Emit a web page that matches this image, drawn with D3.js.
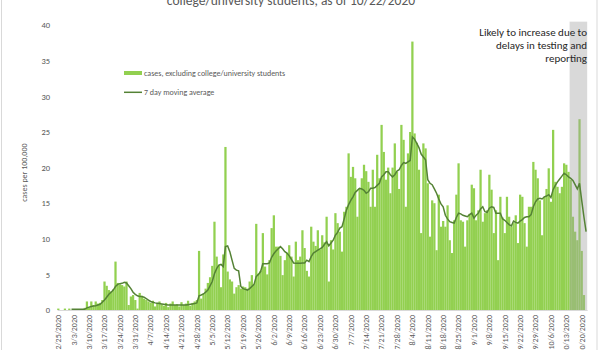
<!DOCTYPE html>
<html>
<head>
<meta charset="utf-8">
<script src="https://cdn.jsdelivr.net/npm/d3@7"></script>
<style>
  html, body { margin: 0; padding: 0; background: #fff; overflow: hidden; }
  text { font-family: Carlito, Calibri, Lato, sans-serif; }
</style>
</head>
<body>
<div id="chart"></div>
<script>
// daily categories run from 2/25/2020 through 10/22/2020
const startDay = new Date(2020, 1, 25);
const endDay = new Date(2020, 9, 22);

// cases per 100,000 excluding college/university students, one per day
const cases = [
  0.2, 0, 0, 0.2, 0, 0.2, 0, 0, 0, 0,
  0, 0, 0.3, 1.2, 0.4, 1.2, 0.7, 1.2, 0.9, 1.0,
  1.4, 4.0, 3.4, 2.8, 2.6, 2.9, 6.8, 3.8, 3.6, 3.5,
  3.3, 4.0, 0.7, 1.9, 2.1, 1.4, 0.2, 2.4, 2.0, 1.6,
  1.4, 1.2, 1.0, 1.3, 0.5, 1.0, 1.2, 0.8, 0.6, 1.0,
  0.4, 0.9, 1.2, 0.7, 0.8, 0.5, 1.1, 0.7, 0.9, 1.3,
  0.6, 1.0, 1.2, 1.4, 8.3, 1.6, 2.3, 3.0, 3.8, 4.6,
  6.2, 12.4, 7.5, 6.3, 3.2, 7.8, 22.9, 5.4, 4.3, 4.0,
  2.3, 3.2, 3.5, 3.0, 3.3, 3.2, 3.0, 4.0, 4.9, 3.6,
  12.1, 5.1, 5.5, 10.8, 6.1, 5.0, 7.0, 11.5, 13.3, 8.9,
  8.9, 7.6, 4.9, 7.0, 8.0, 9.1, 7.5, 4.7, 9.6, 7.0,
  7.5, 11.2, 8.7, 5.5, 4.7, 11.7, 9.6, 9.0, 11.2, 8.5,
  10.5, 9.5, 13.1, 4.0, 9.8, 8.5, 13.6, 12.2, 11.0, 8.2,
  13.8, 14.5, 22.0, 18.7, 20.1, 18.5, 13.1, 17.1, 18.5, 20.4,
  19.5, 18.0, 14.5, 19.7, 14.5, 21.8, 18.5, 26.0, 22.2, 18.3,
  20.0, 16.4, 20.0, 23.4, 19.4, 17.0, 26.0, 23.9, 14.5, 22.0,
  25.0, 37.7, 24.8, 23.5, 19.7, 10.8, 23.4, 22.7, 17.8, 10.3,
  15.4, 15.0, 8.4, 16.2, 11.7, 12.5, 11.7, 14.7, 9.8, 8.0,
  12.6, 16.2, 20.6, 12.6, 12.4, 8.9, 12.6, 13.5, 17.6, 17.1,
  12.6, 14.0, 19.7, 12.4, 13.6, 14.0, 19.0, 16.9, 10.8, 14.0,
  7.0, 15.9, 13.0, 10.8, 15.9, 13.1, 11.7, 12.2, 13.3, 9.4,
  16.2, 15.9, 12.2, 8.9, 14.5, 14.5, 20.8, 19.7, 18.5, 15.4,
  10.5, 15.9, 17.0, 19.9, 15.2, 25.3, 18.0, 17.3, 16.4, 17.3,
  20.6, 20.4, 19.4, 18.3, 13.1, 11.0, 9.8, 26.8, 8.3, 2.1,
  0
];

// 7 day moving average as drawn (starts on the 7th day)
const movingAvg = [
  null, null, null, null, null, null, 0.1, 0.1, 0.1, 0.1,
  0.1, 0.1, 0.1, 0.3, 0.4, 0.5, 0.55, 0.6, 0.7, 0.8,
  1.1, 1.4, 1.8, 2.2, 2.5, 2.8, 3.3, 3.6, 3.7, 3.75,
  3.9, 3.8, 3.4, 3.0, 2.5, 2.2, 2.0, 1.9, 1.9, 1.8,
  1.6, 1.4, 1.2, 1.1, 1.0, 0.95, 0.9, 0.85, 0.8, 0.75,
  0.7, 0.7, 0.7, 0.7, 0.7, 0.7, 0.7, 0.7, 0.7, 0.75,
  0.8, 0.85, 0.9, 1.0, 2.0, 2.1, 2.25, 2.5, 2.8, 3.4,
  4.0, 5.1, 5.8, 6.3, 6.4, 6.1, 8.9, 9.0, 8.2, 7.0,
  5.85, 5.6, 5.5, 3.3, 3.0, 2.9, 2.8, 3.0, 3.3, 3.6,
  4.7, 5.0, 5.4, 6.5, 6.5, 6.5, 6.6, 7.4, 7.9, 8.3,
  8.6, 8.9, 8.6, 8.2, 8.0, 7.6, 7.1, 6.6, 6.55, 6.55,
  6.55, 6.6, 6.6, 7.0, 6.8, 7.5, 8.0, 8.2, 8.4, 8.6,
  8.8, 9.2, 9.6, 9.0, 9.4, 9.8, 10.5, 10.9, 11.5, 11.7,
  12.8, 14.0, 14.8, 15.4, 15.9, 16.5, 16.8, 17.1, 17.0, 16.8,
  16.4, 16.6, 17.1, 17.1, 17.2, 17.5, 17.8, 18.7, 19.0, 19.4,
  19.4, 19.0, 18.7, 19.0, 19.5, 19.7, 20.3, 20.7, 20.6, 20.8,
  21.0, 24.3, 24.0, 23.4, 22.8, 21.9, 21.5, 21.1, 18.3, 17.8,
  17.6, 17.0, 16.4, 15.6, 14.9, 14.5, 13.3, 12.8, 12.4, 12.3,
  12.2, 13.0, 13.6, 13.5, 13.3, 13.2, 13.1, 13.4, 13.6, 12.9,
  13.3, 13.6, 14.2, 14.5, 13.8, 13.7, 14.3, 14.5, 14.4, 13.6,
  13.6, 13.6, 12.8, 12.6, 12.3, 12.0, 11.8, 12.5, 12.3, 12.2,
  12.5, 12.7, 13.0, 13.1, 13.1, 13.4, 14.5, 15.2, 15.6, 15.7,
  15.6, 15.9, 16.0, 16.2, 15.8, 16.9, 17.5, 18.0, 18.4, 18.8,
  19.2, 19.0, 18.7, 18.5, 18.2, 17.6, 17.0, 17.8, 15.4, 13.1,
  11.0
];

const xTickLabels = [
  "2/25/2020", "3/3/2020", "3/10/2020", "3/17/2020", "3/24/2020", "3/31/2020",
  "4/7/2020", "4/14/2020", "4/21/2020", "4/28/2020", "5/5/2020", "5/12/2020",
  "5/19/2020", "5/26/2020", "6/2/2020", "6/9/2020", "6/16/2020", "6/23/2020",
  "6/30/2020", "7/7/2020", "7/14/2020", "7/21/2020", "7/28/2020", "8/4/2020",
  "8/11/2020", "8/18/2020", "8/25/2020", "9/1/2020", "9/8/2020", "9/15/2020",
  "9/22/2020", "9/29/2020", "10/6/2020", "10/13/2020", "10/20/2020"
];
const yTicks = [0, 5, 10, 15, 20, 25, 30, 35, 40];

// shaded "incomplete data" window
const shadeFrom = "10/15/2020";
const shadeTop = 40.5;
const noteLines = ["Likely to increase due to", "delays in testing and", "reporting"];

const fmt = d3.timeFormat("%-m/%-d/%Y");
const days = d3.timeDay.range(startDay, d3.timeDay.offset(endDay, 1)).map(fmt);
const data = days.map((d, i) => ({ day: d, cases: cases[i], avg: movingAvg[i] }));

const width = 600, height = 350;
const svg = d3.select("#chart").append("svg")
    .attr("width", width)
    .attr("height", height);

// outer chart frame
svg.append("rect")
    .attr("x", 1.5).attr("y", -10)
    .attr("width", 595.5).attr("height", height + 20)
    .attr("fill", "none")
    .attr("stroke", "#d9d9d9");

const x = d3.scaleBand()
    .domain(days)
    .range([57.2, 587.2])
    .padding(0);

const y = d3.scaleLinear()
    .domain([0, 40])
    .range([310, 25.2]);

// title (first line falls outside the frame)
svg.append("text")
    .attr("x", 291).attr("y", 5)
    .attr("text-anchor", "middle")
    .style("font-size", "13.5px")
    .style("fill", "#595959")
    .text("college/university students, as of 10/22/2020");

// bars
svg.append("g").selectAll("rect")
  .data(data)
  .enter().append("rect")
    .attr("x", d => x(d.day))
    .attr("width", x.bandwidth() + 0.05)
    .attr("y", d => y(d.cases))
    .attr("height", d => y(0) - y(d.cases))
    .attr("fill", "#92d050");

// grey shading over the last week
svg.append("rect")
    .attr("x", x(shadeFrom))
    .attr("width", x.range()[1] - x(shadeFrom))
    .attr("y", y(shadeTop))
    .attr("height", y(0) - y(shadeTop))
    .attr("fill", "#a5a5a5")
    .attr("opacity", 0.42);

// moving average line
const line = d3.line()
    .defined(d => d.avg != null)
    .x(d => x(d.day) + x.bandwidth() / 2)
    .y(d => y(d.avg));

svg.append("path")
    .datum(data)
    .attr("fill", "none")
    .attr("stroke", "#548235")
    .attr("stroke-width", 1.5)
    .attr("d", line);

// x axis
const xAxis = svg.append("g")
    .attr("transform", "translate(0,310)")
    .call(d3.axisBottom(x).tickValues(xTickLabels).tickSize(0).tickSizeOuter(0));
xAxis.select(".domain").attr("stroke", "#d9d9d9");
xAxis.selectAll("text")
    .attr("transform", "rotate(-90)")
    .attr("text-anchor", "end")
    .attr("x", -5)
    .attr("y", 0)
    .attr("dy", "0.35em")
    .style("font-size", "8px")
    .style("font-family", "Carlito, Calibri, Lato, sans-serif")
    .style("fill", "#595959");

// y axis
const yAxis = svg.append("g")
    .attr("transform", "translate(52,0)")
    .call(d3.axisLeft(y).tickValues(yTicks).tickSize(0).tickPadding(2));
yAxis.select(".domain").remove();
yAxis.selectAll("text")
    .style("font-size", "8.5px")
    .style("font-family", "Carlito, Calibri, Lato, sans-serif")
    .style("fill", "#595959");

// y axis title
svg.append("text")
    .attr("transform", "translate(24," + (y(0) + y(40)) / 2 * 1.03 + ") rotate(-90)")
    .attr("text-anchor", "middle")
    .attr("dy", "0.35em")
    .style("font-size", "8px")
    .style("fill", "#595959")
    .text("cases per 100,000");

// legend
const legend = svg.append("g");
legend.append("rect")
    .attr("x", 124).attr("y", 71)
    .attr("width", 18).attr("height", 4)
    .attr("fill", "#92d050");
legend.append("text")
    .attr("x", 144).attr("y", 73).attr("dy", "0.35em")
    .style("font-size", "8px")
    .style("fill", "#595959")
    .text("cases, excluding college/university students");
legend.append("line")
    .attr("x1", 124).attr("x2", 142)
    .attr("y1", 92.3).attr("y2", 92.3)
    .attr("stroke", "#548235")
    .attr("stroke-width", 1.5);
legend.append("text")
    .attr("x", 144).attr("y", 92.3).attr("dy", "0.35em")
    .style("font-size", "8px")
    .style("fill", "#595959")
    .text("7 day moving average");

// annotation
svg.append("g").selectAll("text")
  .data(noteLines)
  .enter().append("text")
    .attr("x", 587)
    .attr("y", (d, i) => 36 + i * 13)
    .attr("text-anchor", "end")
    .style("font-size", "11px")
    .style("fill", "#262626")
    .text(d => d);
</script>
</body>
</html>
